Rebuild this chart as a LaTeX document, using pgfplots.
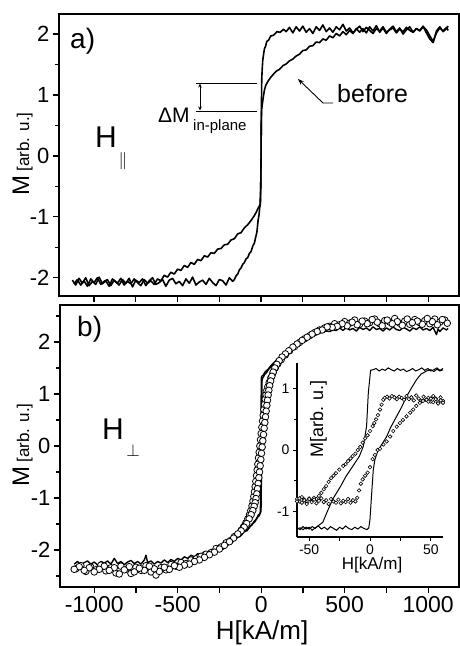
\documentclass[border=0pt]{standalone}
\usepackage{fontspec}
\setmainfont{Liberation Sans}
\usepackage{pgfplots}
\pgfplotsset{compat=1.18}
\usetikzlibrary{arrows.meta}

\newcommand{\fs}[1]{\fontsize{#1}{#1}\selectfont}

\pgfplotsset{
  hyst/.style={
    scale only axis,
    axis line style={line width=1.7pt},
    tick style={line width=1.2pt, black},
    tick align=outside,
    xtick pos=bottom, ytick pos=left,
    major tick length=6pt, minor tick length=4pt,
    /pgf/number format/assume math mode=true,
    yticklabel style={font=\fs{22}},
    xticklabel style={font=\fs{23}},
  },
  loopline/.style={black, line width=1.6pt, line join=round},
  bigcirc/.style={only marks, mark=*, mark size=3.3pt,
    mark options={fill=white, draw=black, line width=0.8pt}},
  smallcirc/.style={only marks, mark=*, mark size=1.8pt,
    mark options={fill=white, draw=black, line width=0.6pt}},
}

\begin{document}
\begin{tikzpicture}
\useasboundingbox (0pt,0pt) rectangle (460pt,646pt);

% ---------- a) in-plane field ----------
\begin{axis}[hyst, at={(59pt,350pt)}, anchor=south west,
  width=400pt, height=282pt,
  xmin=-1210, xmax=1185, ymin=-2.3, ymax=2.33,
  xtick={-1000,-750,...,1000}, xticklabels={},
  ytick={-2,-1,0,1,2}, yticklabels={-2,-1,0,1,2},
  minor ytick={-1.5,-0.5,0.5,1.5},
]
% after (steep loop)
\addplot[loopline] coordinates {
(-1130,-2.04) (-1110,-2.12) (-1090,-2.01) (-1070,-2.09) (-1050,-2.00) (-1030,-2.13)
(-1010,-2.06) (-990,-2.11) (-970,-1.99) (-950,-2.10) (-930,-2.05) (-910,-2.14)
(-890,-2.02) (-870,-2.07) (-850,-2.12) (-830,-2.03) (-810,-2.09) (-790,-2.01)
(-770,-2.15) (-750,-2.04) (-730,-2.08) (-710,-2.02) (-690,-2.13) (-670,-2.05)
(-650,-2.00) (-630,-2.11) (-610,-2.08) (-590,-2.03) (-570,-2.14) (-550,-2.04)
(-530,-2.01) (-510,-2.10) (-490,-2.06) (-470,-2.13) (-450,-2.02) (-430,-2.09)
(-410,-1.99) (-390,-2.12) (-370,-2.07) (-350,-2.04) (-330,-2.11) (-310,-2.01)
(-290,-2.08) (-270,-2.13) (-250,-2.03) (-230,-2.05) (-210,-2.12) (-190,-2.00)
(-170,-2.06) (-160,-2.03) (-150,-1.97) (-140,-1.94) (-130,-1.87) (-120,-1.84)
(-110,-1.78) (-100,-1.75) (-90,-1.69) (-80,-1.67) (-70,-1.60) (-60,-1.57)
(-50,-1.48) (-40,-1.43) (-32,-1.33) (-25,-1.25) (-18,-1.06) (-12,-0.96)
(-8,-0.84) (-4,-0.79) (-2,-0.5) (0,0.0) (1,0.5) (2,0.79) (4,1.27) (7,1.44)
(10,1.57) (14,1.65) (20,1.76) (27,1.80) (34,1.88) (45,1.90) (58,1.97) (74,1.98)
(95,2.04) (115,2.03) (134,2.08)
(150,2.04) (170,2.11) (190,2.02) (210,2.12) (230,2.05) (250,2.13) (270,2.03)
(290,2.09) (310,2.01) (330,2.12) (350,2.06) (370,2.15) (390,2.04) (410,2.10)
(430,2.03) (450,2.12) (470,2.07) (490,2.16) (510,2.05) (530,2.10) (550,2.02)
(570,2.08) (590,2.13) (610,2.04) (630,2.11) (650,2.06) (670,2.01) (690,2.09)
(710,2.05) (730,2.12) (750,2.03) (770,2.07) (790,2.10) (810,2.02) (830,2.08)
(850,2.04) (870,2.11) (890,2.06) (910,2.03) (930,2.09) (950,2.05) (970,2.12)
(990,2.07) (1010,1.97) (1030,1.88) (1050,2.02) (1070,2.10) (1090,2.05)
(1110,2.11) (1120,2.06)
};
% before (gradual loop)
\addplot[loopline] coordinates {
(-1120,-2.10) (-1100,-2.03) (-1080,-2.12) (-1060,-2.05) (-1040,-2.14) (-1020,-2.02)
(-1000,-2.08) (-980,-2.00) (-960,-2.11) (-940,-2.06) (-920,-2.03) (-900,-2.13)
(-880,-2.04) (-860,-2.09) (-840,-2.01) (-820,-2.12) (-800,-2.06) (-780,-2.10)
(-760,-2.02) (-740,-2.08) (-720,-2.13) (-700,-2.03) (-680,-2.09) (-660,-2.05)
(-640,-2.11) (-620,-2.02)
(-600,-2.05) (-580,-1.96) (-560,-1.99) (-540,-1.91) (-520,-1.94) (-500,-1.86)
(-480,-1.88) (-460,-1.80) (-440,-1.83) (-420,-1.75) (-400,-1.78) (-380,-1.70)
(-360,-1.72) (-340,-1.64) (-320,-1.66) (-300,-1.59) (-280,-1.60) (-260,-1.53)
(-240,-1.52) (-220,-1.46) (-200,-1.45) (-180,-1.38) (-160,-1.36) (-140,-1.28)
(-120,-1.26) (-100,-1.18) (-80,-1.13) (-60,-1.06) (-45,-1.00) (-30,-0.93)
(-20,-0.87) (-12,-0.83) (-6,-0.80) (-2,-0.5) (0,0.0) (1,0.5) (3,0.76) (8,0.86)
(14,0.98) (20,1.08) (28,1.16) (40,1.22) (55,1.28) (70,1.33) (90,1.39) (110,1.42)
(130,1.48) (150,1.51) (170,1.56) (190,1.59) (210,1.64) (230,1.67) (250,1.73)
(270,1.74) (290,1.80) (310,1.81) (330,1.87) (350,1.86) (370,1.92) (390,1.90)
(410,1.97) (430,1.94) (450,2.01) (470,1.97) (490,2.04) (510,1.99) (530,2.06)
(550,2.01) (570,2.09) (590,2.03)
(610,2.09) (630,2.02) (650,2.12) (670,2.05) (690,2.14) (710,2.03) (730,2.10)
(750,2.01) (770,2.08) (790,2.13) (810,2.04) (830,2.10) (850,2.00) (870,2.07)
(890,2.12) (910,2.03) (930,2.09) (950,2.06) (970,2.13) (990,2.02) (1010,1.92)
(1030,1.86) (1050,2.05) (1070,2.12) (1090,2.04) (1110,2.09) (1120,2.13)
};
\end{axis}

% ---------- b) perpendicular field ----------
\begin{axis}[hyst, at={(60pt,59pt)}, anchor=south west,
  width=399pt, height=282pt,
  xmin=-1205, xmax=1185, ymin=-2.71, ymax=2.71,
  xtick={-1000,-750,...,1000}, xticklabels={-1000,,-500,,0,,500,,1000},
  ytick={-2,-1,0,1,2}, yticklabels={-2,-1,0,1,2},
  minor ytick={-2.5,-1.5,-0.5,0.5,1.5,2.5},
]
\addplot[loopline, line width=1.4pt] coordinates {
(-1120,-2.27) (-1100,-2.22) (-1080,-2.28) (-1060,-2.24) (-1040,-2.21) (-1020,-2.27)
(-1000,-2.23) (-980,-2.29) (-960,-2.22) (-940,-2.25) (-920,-2.21) (-900,-2.27)
(-880,-2.16) (-860,-2.26) (-840,-2.22) (-820,-2.28) (-800,-2.23) (-780,-2.20)
(-760,-2.26) (-740,-2.22) (-720,-2.27) (-700,-2.19) (-690,-2.10) (-680,-2.24)
(-660,-2.21) (-640,-2.27) (-620,-2.22) (-600,-2.25) (-580,-2.19) (-560,-2.24)
(-540,-2.18) (-520,-2.22) (-500,-2.16) (-480,-2.19) (-460,-2.13) (-440,-2.16)
(-420,-2.10) (-400,-2.13) (-380,-2.07) (-360,-2.09) (-340,-2.03) (-320,-2.05)
(-300,-1.99) (-280,-2.00) (-260,-1.93) (-240,-1.94) (-220,-1.87) (-200,-1.88)
(-180,-1.80) (-160,-1.80) (-140,-1.73) (-120,-1.72) (-100,-1.64) (-85,-1.63)
(-70,-1.55) (-55,-1.52) (-40,-1.44) (-28,-1.40) (-18,-1.33) (-10,-1.31)
(-4,-1.27) (-1,-1.26) (1,-0.7) (2,-0.2) (3,0.4) (4,1.0) (5,1.26) (8,1.30)
(14,1.33) (22,1.38) (32,1.41) (44,1.47) (58,1.52) (74,1.58) (90,1.64) (110,1.70)
(130,1.76) (150,1.82) (170,1.88) (190,1.92) (210,1.98) (230,2.02) (250,2.06)
(270,2.10) (290,2.12) (310,2.14) (330,2.15) (350,2.17) (370,2.19) (390,2.21)
(410,2.20) (430,2.23) (450,2.22) (470,2.27) (490,2.22) (510,2.28) (530,2.23)
(550,2.26) (570,2.21) (590,2.28) (610,2.24) (630,2.27) (650,2.22) (670,2.29)
(690,2.24) (710,2.26) (730,2.21) (750,2.27) (770,2.23) (790,2.29) (810,2.24)
(830,2.22) (850,2.28) (870,2.25) (890,2.21) (910,2.27) (930,2.24) (950,2.29)
(970,2.23) (990,2.26) (1010,2.22) (1030,2.28) (1050,2.14) (1060,2.25)
(1070,2.20) (1090,2.27) (1110,2.23) (1120,2.26)
};
\addplot[loopline, line width=1.4pt] coordinates {
(100,1.68) (80,1.61) (60,1.55) (40,1.47) (25,1.43) (12,1.36) (4,1.34) (1,1.31)
(0,0.9) (-1,0.3) (-2,-0.3) (-3,-0.9) (-5,-1.29) (-12,-1.34) (-24,-1.38)
(-38,-1.46) (-55,-1.50) (-75,-1.59) (-100,-1.65)
};
\addplot[bigcirc] coordinates {
(-1110,-2.36) (-1080,-2.30) (-1050,-2.41) (-1020,-2.33) (-990,-2.38) (-960,-2.29)
(-930,-2.40) (-900,-2.34) (-870,-2.44) (-840,-2.31) (-810,-2.37) (-780,-2.45)
(-750,-2.33) (-720,-2.39) (-690,-2.30) (-660,-2.42) (-630,-2.48) (-600,-2.34)
(-570,-2.38) (-540,-2.28) (-510,-2.31) (-480,-2.24) (-450,-2.26) (-420,-2.19)
(-390,-2.17) (-360,-2.12) (-330,-2.08) (-300,-2.05) (-270,-1.97) (-240,-1.94)
(-210,-1.86) (-185,-1.82) (-160,-1.74) (-140,-1.70) (-120,-1.62) (-105,-1.55)
(-92,-1.48) (-80,-1.40) (-70,-1.32) (-62,-1.24) (-55,-1.15) (-49,-1.06)
(-44,-0.97) (-40,-0.88) (-36,-0.78) (-32,-0.68) (-28,-0.57) (-24,-0.46)
(-20,-0.35) (-16,-0.23) (-12,-0.12) (-8,0.0) (-4,0.12) (0,0.24) (4,0.36)
(8,0.48) (12,0.59) (16,0.70) (20,0.80) (24,0.90) (29,0.99) (34,1.07) (40,1.14)
(48,1.22) (58,1.31) (70,1.40) (85,1.50) (100,1.58) (120,1.66) (145,1.75)
(170,1.83) (200,1.91) (230,1.99) (260,2.06) (290,2.12) (320,2.18) (350,2.23)
(380,2.27) (410,2.30) (440,2.35) (470,2.33) (500,2.39) (530,2.36) (560,2.42)
(590,2.34) (620,2.40) (650,2.37) (680,2.44) (710,2.35) (740,2.41) (770,2.38)
(800,2.45) (830,2.36) (860,2.40) (890,2.34) (920,2.43) (950,2.37) (980,2.41)
(1010,2.35) (1040,2.44) (1070,2.38) (1100,2.42)
};
\addplot[bigcirc] coordinates {
(1115,2.36) (1085,2.43) (1055,2.33) (1025,2.39) (995,2.45) (965,2.34) (935,2.40)
(905,2.37) (875,2.44) (845,2.32) (815,2.39) (785,2.35) (755,2.42) (725,2.31)
(695,2.38) (665,2.43) (635,2.35) (605,2.40) (575,2.33) (545,2.38) (515,2.31)
(485,2.35) (455,2.30) (425,2.28) (395,2.29) (365,2.23) (335,2.20) (305,2.15)
(275,2.09) (245,2.03) (215,1.96) (190,1.90) (165,1.83) (145,1.77) (125,1.71)
(108,1.64) (94,1.57) (82,1.50) (72,1.42) (64,1.34) (57,1.25) (51,1.16)
(46,1.07) (42,0.98) (38,0.88) (34,0.78) (30,0.67) (26,0.56) (22,0.45) (18,0.34)
(14,0.22) (10,0.10) (6,-0.02) (2,-0.14) (-2,-0.26) (-6,-0.38) (-10,-0.50)
(-14,-0.61) (-18,-0.72) (-22,-0.82) (-26,-0.92) (-31,-1.01) (-36,-1.09)
(-42,-1.16) (-50,-1.24) (-60,-1.32) (-72,-1.40) (-87,-1.49) (-102,-1.56)
(-120,-1.63) (-140,-1.69) (-165,-1.77) (-190,-1.84) (-220,-1.91) (-250,-1.98)
(-280,-2.04) (-310,-2.09) (-340,-2.14) (-370,-2.19) (-400,-2.22) (-430,-2.27)
(-460,-2.29) (-490,-2.33) (-520,-2.30) (-550,-2.37) (-580,-2.33) (-610,-2.41)
(-640,-2.36) (-670,-2.31) (-700,-2.39) (-730,-2.35) (-760,-2.42) (-790,-2.32)
(-820,-2.38) (-850,-2.46) (-880,-2.34) (-910,-2.39) (-940,-2.31) (-970,-2.37)
(-1000,-2.42) (-1030,-2.34) (-1060,-2.39) (-1090,-2.32) (-1120,-2.37)
};
\end{axis}

% ---------- inset ----------
\begin{axis}[scale only axis, at={(297pt,109pt)}, anchor=south west,
  width=146pt, height=174pt,
  xmin=-60, xmax=60, ymin=-1.42, ymax=1.42,
  axis x line*=bottom, axis y line*=left,
  axis line style={line width=1.2pt},
  tick style={line width=0.9pt, black},
  tick align=outside,
  major tick length=4pt, minor tick length=3pt,
  xtick={-50,-25,0,25,50}, xticklabels={-50,,0,,50},
  ytick={-1,0,1}, yticklabels={-1,0,1}, minor ytick={-0.5,0.5},
  tick label style={font=\fs{14}},
]
\addplot[black, line width=1pt] coordinates {
(-60,-1.27) (-57.5,-1.30) (-55,-1.25) (-52.5,-1.29) (-50,-1.26) (-47.5,-1.31)
(-45,-1.27) (-42.5,-1.24) (-40,-1.29) (-37.5,-1.26) (-35,-1.30) (-32.5,-1.25)
(-30,-1.28) (-27.5,-1.31) (-25,-1.26) (-22.5,-1.29) (-20,-1.24) (-17.5,-1.28)
(-15,-1.30) (-12.5,-1.26) (-10,-1.29) (-7.5,-1.25) (-5,-1.28) (-2.5,-1.30)
(-1,-1.27) (0,-1.13) (1.4,-0.70) (2.7,-0.32) (4.1,-0.15) (6.8,0.0) (10,0.10)
(13.7,0.22) (17,0.37) (21.9,0.55) (26,0.70) (30,0.87) (34,1.01) (38.3,1.15)
(42,1.24) (46.5,1.29) (50,1.31) (52.5,1.28) (55,1.32) (57.5,1.29) (60,1.31)
};
\addplot[black, line width=1pt] coordinates {
(60,1.33) (57.5,1.30) (55,1.34) (52.5,1.31) (50,1.29) (47.5,1.33) (45,1.30)
(42.5,1.34) (40,1.31) (37.5,1.29) (35,1.33) (32.5,1.30) (30,1.28) (27.5,1.32)
(25,1.30) (22.5,1.33) (20,1.29) (17.5,1.31) (15,1.34) (12.5,1.30) (10,1.32)
(7.5,1.29) (5,1.33) (2.5,1.31) (0.5,1.30) (-1.4,0.93) (-2.8,0.39) (-5.5,0.06)
(-8.7,-0.10) (-14,-0.26) (-19.7,-0.43) (-25,-0.62) (-30.6,-0.80) (-35,-1.00)
(-38.8,-1.18) (-42.9,-1.24) (-45,-1.28) (-47.5,-1.25) (-50,-1.29) (-52.5,-1.26)
(-55,-1.30) (-57.5,-1.27) (-60,-1.29)
};
\addplot[smallcirc] coordinates {
(60,0.80) (58,0.86) (56,0.78) (54,0.84) (52,0.88) (50,0.79) (48,0.85) (46,0.82)
(44,0.87) (42,0.80) (40,0.84) (38,0.89) (36,0.81) (34,0.86) (32,0.83) (30,0.88)
(28,0.82) (26,0.85) (24,0.87) (22,0.83) (20,0.86) (18,0.88) (16,0.84) (14,0.87)
(12,0.85) (10.9,0.82) (9.5,0.74) (8.2,0.66) (6.5,0.57) (5,0.50) (3.5,0.44)
(2.2,0.39) (0,0.31) (-2,0.24) (-4,0.19) (-6,0.12) (-8,0.05) (-10,0.0)
(-12,-0.06) (-14.3,-0.10) (-16,-0.14) (-18,-0.18) (-20,-0.23) (-22,-0.26)
(-25.2,-0.32) (-28,-0.38) (-30,-0.42) (-32,-0.46) (-34,-0.52) (-36.1,-0.59)
(-38,-0.64) (-40,-0.70) (-42,-0.75) (-44,-0.80) (-46,-0.78) (-48,-0.83)
(-50,-0.79) (-52,-0.85) (-54,-0.81) (-56,-0.77) (-58,-0.84) (-60,-0.80)
};
\addplot[smallcirc] coordinates {
(-60,-0.84) (-58,-0.79) (-56,-0.86) (-54,-0.82) (-52,-0.88) (-50,-0.80)
(-48,-0.85) (-46,-0.81) (-44,-0.87) (-42,-0.83) (-40,-0.79) (-38,-0.85)
(-36,-0.82) (-34,-0.88) (-32,-0.80) (-30,-0.84) (-28,-0.86) (-26,-0.81)
(-24,-0.87) (-22,-0.83) (-20,-0.85) (-18,-0.80) (-16,-0.86) (-14,-0.82)
(-12,-0.84) (-10.5,-0.78) (-9,-0.66) (-7.5,-0.55) (-6,-0.48) (-4,-0.42)
(-2,-0.37) (0,-0.28) (2.2,-0.15) (4,-0.08) (6.3,0.0) (8.2,0.02) (11,0.09)
(13.7,0.14) (16.5,0.22) (19.1,0.31) (22,0.38) (24.6,0.44) (27,0.49) (30,0.55)
(33,0.61) (35.5,0.66) (38,0.72) (41,0.77) (43.5,0.80) (46.5,0.82) (48,0.79)
(50,0.84) (52,0.78) (54,0.83) (56,0.76) (58,0.81) (60,0.77)
};
\end{axis}

% ---------- labels ----------
\node[rotate=90, anchor=base] at (29pt,492pt) {\fs{24}M\,\fs{17}[arb. u.]};
\node[rotate=90, anchor=base] at (29pt,201pt) {\fs{24}M\,\fs{17}[arb. u.]};
\node[anchor=base] at (262pt,6pt) {\fs{26}H[kA/m]};
\node[rotate=90, anchor=base] at (323pt,227pt) {\fs{18}M[arb. u.]};
\node[anchor=base] at (372pt,76pt) {\fs{17}H[kA/m]};

\node[anchor=base west, inner sep=0pt] at (70pt,597pt) {\fs{28}a)};
\node[anchor=base west, inner sep=0pt] at (77pt,309pt) {\fs{28}b)};

\node[anchor=base west, inner sep=0pt] at (95pt,498pt) {\fs{30}H};
\node[inner sep=0pt] at (123pt,485pt) {\fs{18}$\parallel$};
\node[anchor=base west, inner sep=0pt] at (102pt,206pt) {\fs{30}H};
\node[inner sep=0pt] at (133pt,195pt) {\fs{18}$\perp$};

\node[anchor=base west, inner sep=0pt] at (158pt,523pt) {\fs{21}ΔM};
\node[anchor=base west, inner sep=0pt] at (193pt,515pt) {\fs{15}in-plane};
\draw[line width=0.8pt] (196pt,563pt) -- (257pt,563pt);
\draw[line width=0.8pt] (196pt,535pt) -- (257pt,535pt);
\draw[line width=0.8pt, {Stealth[length=4pt,width=3.5pt]}-{Stealth[length=4pt,width=3.5pt]}]
  (200pt,562.5pt) -- (200pt,535.5pt);

\node[anchor=base west, inner sep=0pt] at (337pt,543pt) {\fs{25}before};
\draw[line width=0.9pt, -{Stealth[length=6pt,width=4.5pt]}]
  (333pt,543pt) -- (323pt,543pt) -- (298pt,567pt);
\end{tikzpicture}
\end{document}
